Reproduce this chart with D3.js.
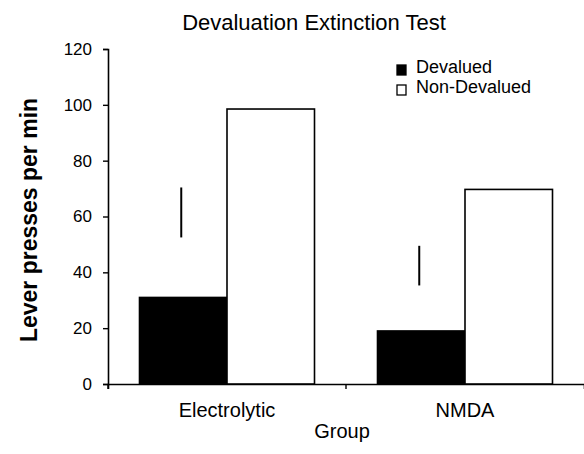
<!doctype html>
<html lang="en">
<head>
<meta charset="UTF-8">
<title>Devaluation Extinction Test</title>
<script src="https://cdn.jsdelivr.net/npm/d3@7"></script>
<style>
    body { margin: 0; background: #fff; }
    svg text { font-family: Arial, "Liberation Sans", sans-serif; fill: #000; }
</style>
</head>
<body>
<div id="chart"></div>
<script>
// data
const groups = ["Electrolytic", "NMDA"];
const seriesNames = ["Devalued", "Non-Devalued"];
const devalued = [31, 19];
const nonDevalued = [98.5, 69.7];
// the floating error lines drawn above the devalued bars
const errLow = [52.5, 35.3];
const errHigh = [70.4, 49.5];
const yTicks = [0, 20, 40, 60, 80, 100, 120];

const W = 584, H = 454;
const plotL = 108, plotR = 584, plotT = 49, plotB = 384;

const svg = d3.select("#chart").append("svg")
    .attr("width", W).attr("height", H);

const x = d3.scaleBand().domain(groups).range([plotL, plotR]);
const inner = d3.scaleBand().domain(seriesNames)
    .range([0, x.bandwidth()]).paddingOuter(0.36).paddingInner(0);
const y = d3.scaleLinear().domain([0, 120]).range([plotB, plotT]);

// axes
const yAxis = svg.append("g")
    .attr("transform", "translate(" + plotL + ",0)")
    .call(d3.axisLeft(y).tickValues(yTicks).tickSize(5).tickPadding(11));
yAxis.select(".domain").attr("stroke-width", 1.6);
yAxis.selectAll(".tick line").attr("stroke-width", 1.4);
yAxis.selectAll("text").style("font-size", "17px");

const xAxis = svg.append("g")
    .attr("transform", "translate(0," + plotB + ")")
    .call(d3.axisBottom(x).tickSize(5).tickPadding(14).tickSizeOuter(5));
xAxis.select(".domain").attr("stroke-width", 1.6);
xAxis.selectAll(".tick line")
    .attr("transform", "translate(" + (-x.bandwidth() / 2) + ",0)")
    .attr("stroke-width", 1.4);
xAxis.selectAll("text").style("font-size", "20px");

// bars
const rows = groups.map((g, i) => ({ g: g, vals: [devalued[i], nonDevalued[i]] }));
const grp = svg.selectAll(".grp").data(rows).enter().append("g")
    .attr("transform", d => "translate(" + x(d.g) + ",0)");
grp.selectAll("rect")
    .data(d => d.vals.map((v, j) => ({ s: seriesNames[j], v: v })))
    .enter().append("rect")
    .attr("x", d => inner(d.s))
    .attr("y", d => y(d.v))
    .attr("width", inner.bandwidth())
    .attr("height", d => plotB - y(d.v))
    .attr("fill", d => d.s === "Devalued" ? "#000" : "#fff")
    .attr("stroke", "#000")
    .attr("stroke-width", 1.6);

// error lines
svg.selectAll(".err").data(groups).enter().append("line")
    .attr("x1", g => x(g) + inner("Devalued") + inner.bandwidth() / 2 - 2)
    .attr("x2", g => x(g) + inner("Devalued") + inner.bandwidth() / 2 - 2)
    .attr("y1", (g, i) => y(errLow[i]))
    .attr("y2", (g, i) => y(errHigh[i]))
    .attr("stroke", "#000").attr("stroke-width", 2);

// title and axis labels
svg.append("text").attr("x", 314).attr("y", 30)
    .attr("text-anchor", "middle").style("font-size", "22px")
    .text("Devaluation Extinction Test");
svg.append("text").attr("x", 342).attr("y", 438)
    .attr("text-anchor", "middle").style("font-size", "20px")
    .text("Group");
svg.append("text")
    .attr("transform", "translate(37,220) rotate(-90)")
    .attr("text-anchor", "middle").style("font-size", "23px").style("font-weight", "bold")
    .text("Lever presses per min");

// legend
const leg = svg.append("g").attr("transform", "translate(397,65)");
seriesNames.forEach((s, i) => {
    leg.append("rect").attr("x", 0).attr("y", i * 20)
        .attr("width", 9).attr("height", 10)
        .attr("fill", i === 0 ? "#000" : "#fff")
        .attr("stroke", "#000").attr("stroke-width", 1.3);
    leg.append("text").attr("x", 19).attr("y", i * 20 + 8)
        .style("font-size", "18px").text(s);
});
</script>
</body>
</html>
